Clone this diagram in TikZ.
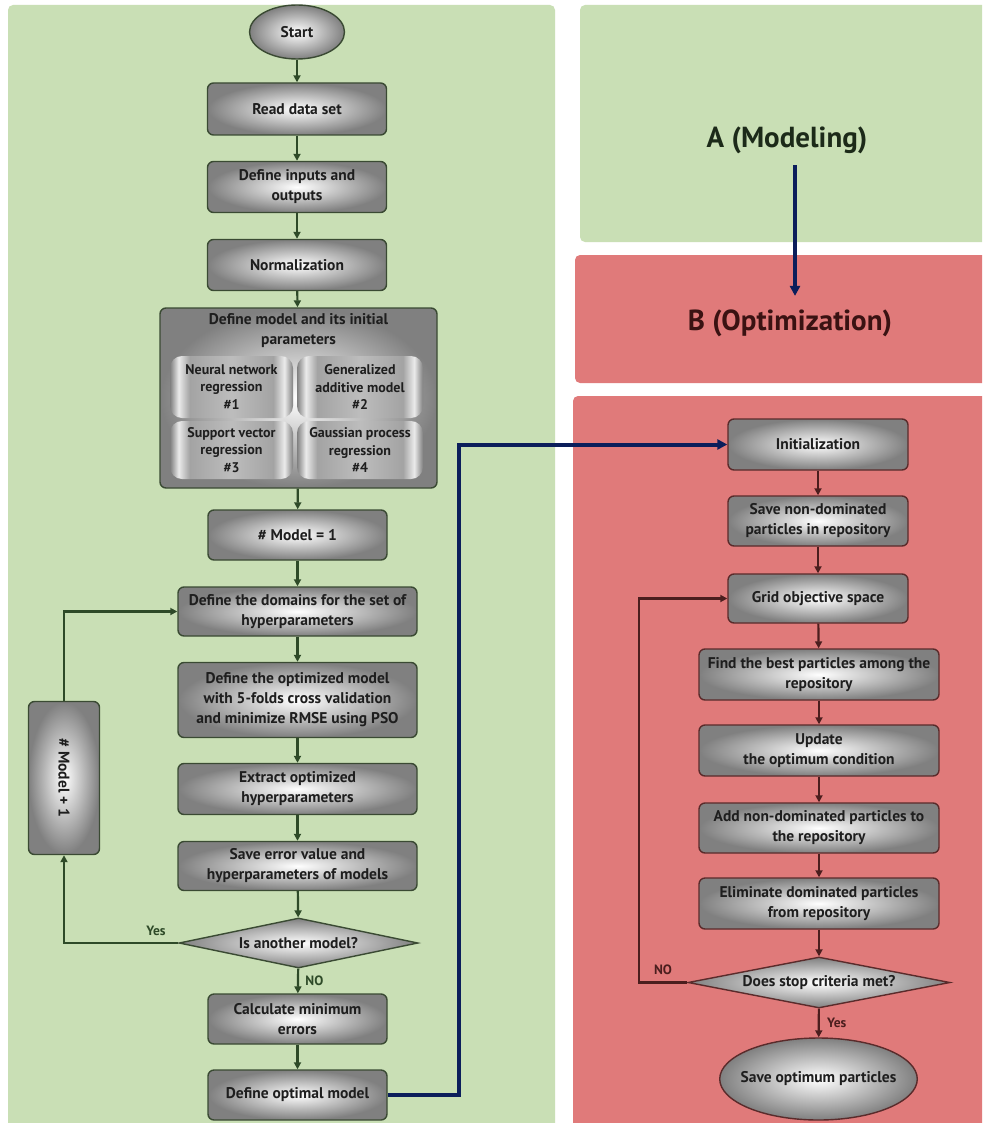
\documentclass[tikz,border=0pt]{standalone}
\usepackage{fontspec}
\setmainfont{PT Sans}
\usetikzlibrary{arrows.meta,shapes.geometric,calc}

\definecolor{panelgreen}{HTML}{C9DFB5}
\definecolor{panelred}{HTML}{E07A7A}
\definecolor{gborder}{HTML}{3A4A33}
\definecolor{rborder}{HTML}{5A2B2B}
\definecolor{garrowc}{HTML}{2E4A28}
\definecolor{rarrowc}{HTML}{4B1E1E}
\definecolor{navy}{HTML}{0B1E5B}
\definecolor{txt}{HTML}{1E1E1E}
\definecolor{titleA}{HTML}{1C2A19}
\definecolor{titleB}{HTML}{3A1212}

% gray cylinder-like fill of the four model boxes
\pgfdeclarehorizontalshading{cylshade}{100bp}{%
  color(0bp)=(black!50); color(25bp)=(black!50);
  color(28.5bp)=(black!8); color(33bp)=(black!36);
  color(50bp)=(black!26);
  color(67bp)=(black!36); color(71.5bp)=(black!8);
  color(75bp)=(black!50); color(100bp)=(black!50)}

\newcommand{\boxfont}{\fontsize{15.5}{20}\selectfont\bfseries}
\newcommand{\subfont}{\fontsize{14}{17.5}\selectfont\bfseries}
\newcommand{\lblfont}{\fontsize{13.5}{15}\selectfont\bfseries}
\newcommand{\bigfont}{\fontsize{29}{32}\selectfont\bfseries}

\tikzset{
  flowbox/.style={rounded corners=6pt, line width=1.4pt, shading=radial,
    inner color=white, outer color=black!50, align=center, font=\boxfont,
    text=txt, inner sep=2pt},
  lbox/.style={flowbox, draw=gborder},
  rbox/.style={flowbox, draw=rborder},
  lterm/.style={lbox, ellipse, rounded corners=0pt},
  rterm/.style={rbox, ellipse, rounded corners=0pt, inner xsep=-8pt},
  ldec/.style={lbox, diamond, rounded corners=0pt, inner sep=0pt},
  rdec/.style={rbox, diamond, rounded corners=0pt, inner sep=0pt},
  subbox/.style={rounded corners=12pt, shading=cylshade, align=center,
    font=\subfont, text=txt, inner sep=0pt},
  garrow/.style={draw=garrowc, line width=2.2pt, -{Triangle[length=7pt,width=7pt]}},
  rarrow/.style={draw=rarrowc, line width=2.2pt, -{Triangle[length=7pt,width=7pt]}},
  blink/.style={draw=navy, line width=4pt, -{Triangle[length=10pt,width=10pt]}},
  glabel/.style={font=\lblfont, text=garrowc},
  rlabel/.style={font=\lblfont, text=rarrowc},
}

\begin{document}
\begin{tikzpicture}[x=1pt, y=-1pt]
\useasboundingbox (0,0) rectangle (982,1123);
\clip (0,0) rectangle (982,1123);
\fill[white] (0,0) rectangle (982,1123);

% background panels
\fill[panelgreen, rounded corners=5pt] (8,5) rectangle (555,1135);
\fill[panelgreen, rounded corners=5pt] (580,5) rectangle (995,242);
\fill[panelred, rounded corners=5pt] (575,255) rectangle (995,383);
\fill[panelred, rounded corners=5pt] (573,396) rectangle (995,1135);

% panel titles
\node[font=\bigfont, text=titleA] (A) at (787,140) {A (Modeling)};
\node[font=\bigfont, text=titleB] (B) at (790,323) {B (Optimization)};
\draw[draw=navy, line width=3.6pt, -{Triangle[length=10pt,width=10pt]}]
  ($(A.south)+(8,8)$) -- ($(B.north)+(5,-10)$);

% ---- A: modeling flow ----
\node[lterm, minimum width=95, minimum height=54] (start) at (297,32) {Start};
\node[lbox, minimum width=179, minimum height=52] (read) at (297,109) {Read data set};
\node[lbox, minimum width=179, minimum height=51] (inputs) at (297,187) {Define inputs and\\outputs};
\node[lbox, minimum width=179, minimum height=51] (norm) at (297,265) {Normalization};

\node[lbox, minimum width=277, minimum height=180] (model) at (298.5,398) {};
\node[font=\boxfont, text=txt, align=center] (modeltitle) at (298.5,331)
  {Define model and its initial\\parameters};
\node[subbox, minimum width=123, minimum height=62] (nn) at (231.5,387) {Neural network\\regression\\\#1};
\node[subbox, minimum width=126, minimum height=62] (gam) at (360,387) {Generalized\\additive model\\\#2};
\node[subbox, minimum width=123, minimum height=58] (svr) at (231.5,450) {Support vector\\regression\\\#3};
\node[subbox, minimum width=126, minimum height=58] (gpr) at (360,450) {Gaussian process\\regression\\\#4};

\node[lbox, minimum width=179, minimum height=50] (m1) at (297.5,535) {\# Model = 1};
\node[lbox, minimum width=239, minimum height=49] (dom) at (297.5,611.5) {Define the domains for the set of\\hyperparameters};
\node[lbox, minimum width=239, minimum height=75] (opt) at (297.5,700) {Define the optimized model\\with 5-folds cross validation\\and minimize RMSE using PSO};
\node[lbox, minimum width=239, minimum height=51] (ext) at (297.5,789) {Extract optimized\\hyperparameters};
\node[lbox, minimum width=239, minimum height=49] (save) at (297.5,866) {Save error value and\\hyperparameters of models};
\node[ldec, minimum width=239, minimum height=50, shape aspect=4.8] (dia) at (298.5,943) {Is another model?};
\node[lbox, minimum width=179, minimum height=50] (calc) at (297.5,1019) {Calculate minimum\\errors};
\node[lbox, minimum width=179, minimum height=50] (defopt) at (297.5,1095) {Define optimal model};
\node[lbox, rotate=-90, minimum width=153, minimum height=71] (mp1) at (64,778) {\# Model + 1};

\draw[garrow] (start) -- (read);
\draw[garrow] (read) -- (inputs);
\draw[garrow] (inputs) -- (norm);
\draw[garrow] (norm) -- (model);
\draw[garrow] (model) -- (m1);
\draw[garrow] (m1) -- (dom);
\draw[garrow] (dom) -- (opt);
\draw[garrow] (opt) -- (ext);
\draw[garrow] (ext) -- (save);
\draw[garrow] (save) -- (dia);
\draw[garrow] (dia) -- node[glabel, right, xshift=3pt] {NO} (calc);
\draw[garrow] (calc) -- (defopt);
\draw[garrow] (dia.west) -| (mp1);
\draw[garrow] (mp1) |- (dom.west);
\node[glabel] (yes1) at (156,931) {Yes};

% ---- B: optimization flow ----
\node[rbox, minimum width=180, minimum height=51] (init) at (818,444.5) {Initialization};
\node[rbox, minimum width=180, minimum height=50] (savend) at (818,521) {Save non-dominated\\particles in repository};
\node[rbox, minimum width=180, minimum height=49] (grid) at (818,598.5) {Grid objective space};
\node[rbox, minimum width=240, minimum height=51] (best) at (819,674.5) {Find the best particles among the\\repository};
\node[rbox, minimum width=240, minimum height=51] (upd) at (819,750.5) {Update\\the optimum condition};
\node[rbox, minimum width=240, minimum height=50] (add) at (819,828) {Add non-dominated particles to\\the repository};
\node[rbox, minimum width=240, minimum height=51] (elim) at (819,903.5) {Eliminate dominated particles\\from repository};
\node[rdec, minimum width=262, minimum height=51, shape aspect=5.1] (dia2) at (819,982.5) {Does stop criteria met?};
\node[rterm, minimum width=191, minimum height=82] (saveopt) at (818.5,1079) {Save optimum particles};

\draw[rarrow] (init) -- (savend);
\draw[rarrow] (savend) -- (grid);
\draw[rarrow] (grid) -- (best);
\draw[rarrow] (best) -- (upd);
\draw[rarrow] (upd) -- (add);
\draw[rarrow] (add) -- (elim);
\draw[rarrow] (elim) -- (dia2);
\draw[rarrow] (dia2) -- node[rlabel, right, xshift=4pt] {Yes} (saveopt);
\coordinate (loopx) at (639,0);
\draw[rarrow] (dia2.west) -- (dia2.west -| loopx) |- (grid.west);
\node[rlabel] (no2) at (663,970) {NO};

% link from modeling to optimization
\coordinate (bend) at (459,0);
\draw[blink, line join=miter] (defopt.east) -- (defopt.east -| bend) -- (init.west -| bend) -- (init.west);
\end{tikzpicture}
\end{document}
